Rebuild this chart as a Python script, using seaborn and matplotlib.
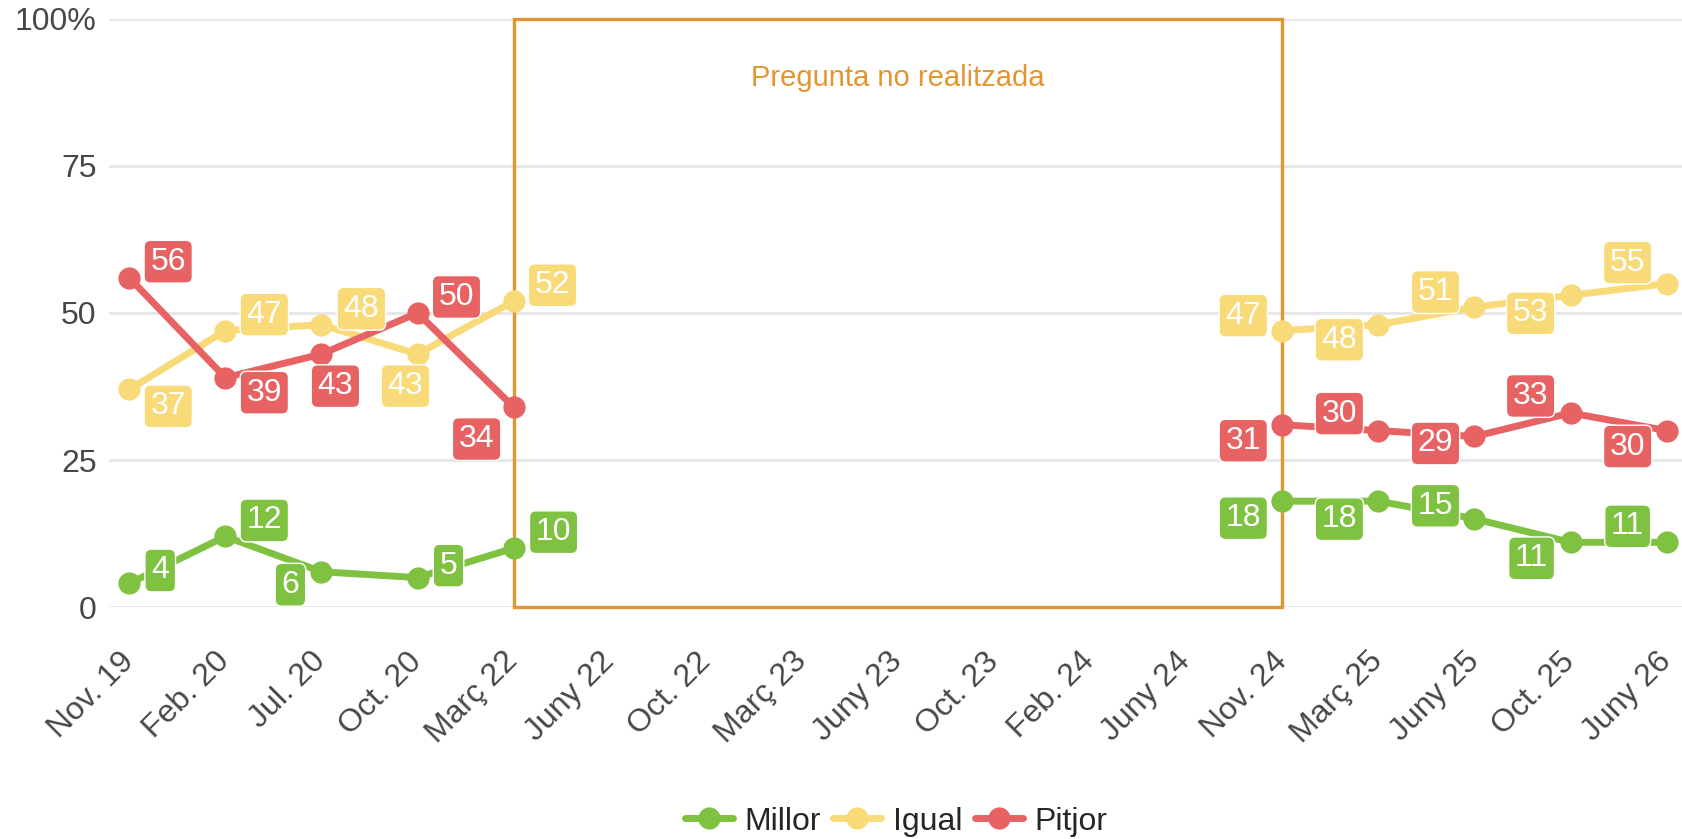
import numpy as np
import pandas as pd
import seaborn as sns
import matplotlib.pyplot as plt
from matplotlib.patches import Rectangle

periods = ["Nov. 19", "Feb. 20", "Jul. 20", "Oct. 20", "Març 22", "Juny 22", "Oct. 22",
           "Març 23", "Juny 23", "Oct. 23", "Feb. 24", "Juny 24", "Nov. 24", "Març 25",
           "Juny 25", "Oct. 25", "Juny 26"]
gap = [np.nan] * 7
millor = [4, 12, 6, 5, 10] + gap + [18, 18, 15, 11, 11]
igual = [37, 47, 48, 43, 52] + gap + [47, 48, 51, 53, 55]
pitjor = [56, 39, 43, 50, 34] + gap + [31, 30, 29, 33, 30]

series = {"Millor": millor, "Igual": igual, "Pitjor": pitjor}
colors = {"Millor": "#7fc241", "Igual": "#f9da78", "Pitjor": "#e76363"}

# label offsets (pixels) relative to each point, only for non-missing points
offsets = {
    "Millor": [(31, 13), (39, 16), (-31, -13), (31, 12), (40, 16),
               (-39, -17), (-39, -18), (-39, 13), (-39, -16), (-39, 16)],
    "Igual": [(39, -17), (39, 16), (40, 16), (-12, -32), (39, 16),
              (-39, 15), (-39, -15), (-39, 15), (-40, -18), (-39, 21)],
    "Pitjor": [(39, 16), (39, -15), (14, -32), (39, 16), (-37, -32),
               (-39, -16), (-39, 17), (-39, -7), (-40, 17), (-39, -16)],
}

rows = []
for name, vals in series.items():
    for i, v in enumerate(vals):
        if not np.isnan(v):
            rows.append({"x": i, "value": v, "serie": name, "segment": 0 if i < 5 else 1})
df = pd.DataFrame(rows)

sns.set_theme(style="white")
plt.rcParams["font.family"] = ["Liberation Sans", "DejaVu Sans"]

fig = plt.figure(figsize=(16.83, 8.39), dpi=100)
ax = fig.add_axes([0.0648, 0.2765, 0.9352, 0.7009])

# grid
for y in [0, 25, 50, 75, 100]:
    ax.axhline(y, color="#e6e6e6", lw=2, zorder=0)

# "not asked" box
ax.add_patch(Rectangle((4, 0), 8, 100, fill=False, edgecolor="#e3952f", lw=2.4, zorder=1, clip_on=False))
ax.text(8, 90, "Pregunta no realitzada", color="#e3952f", fontsize=21, ha="center", va="center")

sns.lineplot(data=df, x="x", y="value", hue="serie", units="segment", estimator=None,
             palette=colors, marker="o", markersize=16, markeredgewidth=0, linewidth=5,
             ax=ax, clip_on=False, zorder=3)

for name, vals in series.items():
    pts = [(i, v) for i, v in enumerate(vals) if not np.isnan(v)]
    for (i, v), (dx, dy) in zip(pts, offsets[name]):
        ax.annotate(f"{int(v)}", (i, v), xytext=(dx, dy), textcoords="offset pixels",
                    ha="center", va="center", fontsize=23, color="white", zorder=5,
                    bbox=dict(boxstyle="round,pad=0.2,rounding_size=0.2", fc=colors[name],
                              ec="white", lw=1), annotation_clip=False)

ax.set_xlim(-0.21, 16.17)
ax.set_ylim(0, 100)
ax.set_xticks(range(len(periods)))
ax.set_xticklabels(periods, rotation=45, ha="right", va="center", rotation_mode="anchor")
ax.set_yticks([0, 25, 50, 75, 100])
ax.set_yticklabels(["0", "25", "50", "75", "100%"])
ax.tick_params(axis="both", length=0, labelsize=23, labelcolor="#474747")
ax.tick_params(axis="x", pad=36)
ax.tick_params(axis="y", pad=9)
ax.set_xlabel("")
ax.set_ylabel("")
sns.despine(ax=ax, left=True, bottom=True)

handles, labels = ax.get_legend_handles_labels()
ax.legend(handles, labels, loc="center", bbox_to_anchor=(0.5, -0.365), ncol=3, frameon=False,
          fontsize=23, handlelength=1.5, columnspacing=0.4, handletextpad=0.35)

fig.savefig("out.png", dpi=100)
